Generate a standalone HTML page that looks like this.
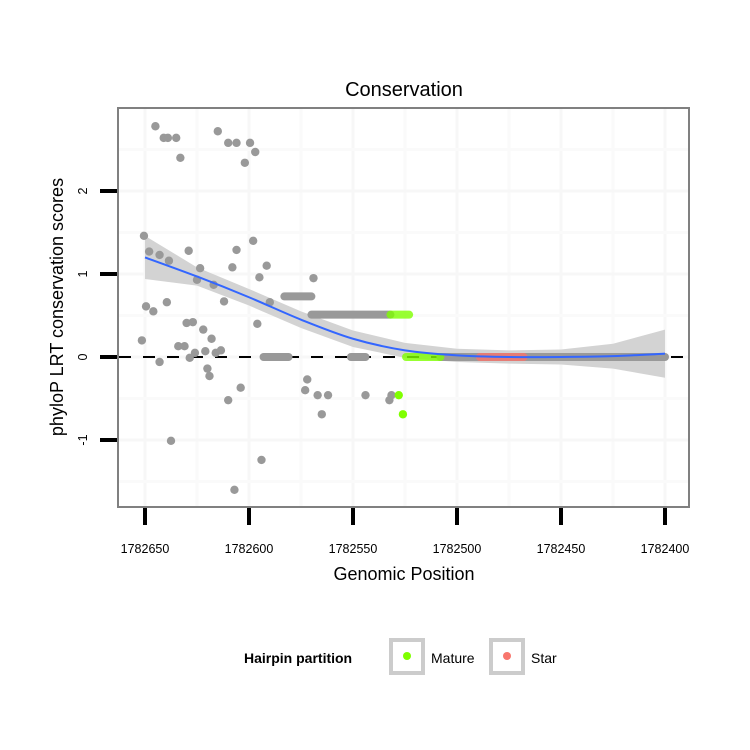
<!DOCTYPE html>
<html><head><meta charset="utf-8"><style>
body{margin:0;background:#fff;}
svg{display:block;font-family:"Liberation Sans",sans-serif;}
</style></head><body>
<svg id="chart" width="750" height="750">
<rect width="750" height="750" fill="#fff"/>
<text x="404" y="96" font-size="20" text-anchor="middle">Conservation</text>
<g id="grid"></g>
<g id="band"></g>
<g id="zero"></g>
<g id="pts"></g>
<g id="fit"></g>
<rect x="118" y="108" width="571" height="399" fill="none" stroke="#808080" stroke-width="2"/>
<g id="xaxis"></g>
<g id="yaxis"></g>
<text x="404" y="580" font-size="18" text-anchor="middle">Genomic Position</text>
<text transform="translate(63,307) rotate(-90)" font-size="18" text-anchor="middle">phyloP LRT conservation scores</text>
<g>
<text x="244" y="663" font-size="14" font-weight="bold">Hairpin partition</text>
<g>
<rect x="391" y="640" width="32" height="33" fill="#fff" stroke="#cccccc" stroke-width="4"/>
<circle cx="407" cy="656" r="4" fill="#7fff00"/>
<text x="431" y="663" font-size="14">Mature</text></g>
<g>
<rect x="491" y="640" width="32" height="33" fill="#fff" stroke="#cccccc" stroke-width="4"/>
<circle cx="507" cy="656" r="4" fill="#f8766d"/>
<text x="531" y="663" font-size="14">Star</text></g>
</g>
</svg>
<script>
const xTicks=[1782650,1782600,1782550,1782500,1782450,1782400];
const xTickLabels=["1782650","1782600","1782550","1782500","1782450","1782400"];
const yTicks=[-1,0,1,2];
const yTickLabels=["-1","0","1","2"];
const ptPos=[1782645,1782641,1782639,1782635,1782633,1782615,1782610,1782606,1782599.5,1782597,1782602,
1782650.5,1782648,1782643,1782638.5,1782629,1782623.5,1782625,1782617,1782608,1782606,1782598,1782591.5,1782595,1782612,1782590,1782569,1782639.5,1782649.5,1782646,1782651.5,1782634,1782631,1782630,1782627,1782622,1782618,1782626,1782628.5,1782621,1782616,1782613.5,1782643,1782620,1782619,1782610,1782604,1782637.5,1782594,1782607,1782596,1782572,1782573,1782567,1782562,1782565,1782544,1782532.5,1782531.5];
const ptVal=[2.78,2.64,2.64,2.64,2.40,2.72,2.58,2.58,2.58,2.47,2.34,
1.46,1.27,1.23,1.16,1.28,1.07,0.93,0.87,1.08,1.29,1.40,1.10,0.96,0.67,0.66,0.95,0.66,0.61,0.55,0.20,0.13,0.13,0.41,0.42,0.33,0.22,0.05,-0.01,0.07,0.05,0.08,-0.06,-0.14,-0.23,-0.52,-0.37,-1.01,-1.24,-1.60,0.40,-0.27,-0.40,-0.46,-0.46,-0.69,-0.46,-0.52,-0.46];
const maturePos=[1782528,1782526];
const matureVal=[-0.46,-0.69];
// runs of densely packed points: start, end, value, group
const runStart=[1782570,1782583,1782593,1782551,1782508,1782532,1782524.5,1782489];
const runEnd=[1782532,1782570,1782581,1782544,1782400,1782523,1782508,1782468];
const runVal=[0.51,0.73,0.00,0.00,0.00,0.51,0.00,0.00];
const runGroup=["none","none","none","none","none","mature","mature","star"];
const fitPos=[1782650,1782625,1782600,1782575,1782550,1782525,1782500,1782475,1782450,1782425,1782400];
const fitVal=[1.20,0.97,0.72,0.45,0.22,0.08,0.02,0.00,0.00,0.01,0.04];
const fitSe=[0.26,0.11,0.10,0.10,0.10,0.09,0.08,0.08,0.09,0.15,0.29];

const NS="http://www.w3.org/2000/svg";
const X=v=>145+(1782650-v)*2.08;
const Y=v=>357-v*83;
function mk(p,t,a){const e=document.createElementNS(NS,t);for(const k in a)e.setAttribute(k,a[k]);document.getElementById(p).appendChild(e);return e;}
const col={none:"#999999",mature:"#7fff00",star:"#f8766d"};
[1782625,1782575,1782525,1782475,1782425].forEach(v=>{const l=mk('grid','line',{x1:X(v),x2:X(v),y1:109,y2:506,stroke:'#fafafa','stroke-width':3});
});
xTicks.forEach(v=>{const l=mk('grid','line',{x1:X(v),x2:X(v),y1:109,y2:506,stroke:'#f7f7f7','stroke-width':3});
});
[-1.5,-0.5,0.5,1.5,2.5].forEach(v=>{const l=mk('grid','line',{x1:119,x2:688,y1:Y(v),y2:Y(v),stroke:'#fafafa','stroke-width':3});
});
yTicks.forEach(v=>{const l=mk('grid','line',{x1:119,x2:688,y1:Y(v),y2:Y(v),stroke:'#f7f7f7','stroke-width':3});
});
let up=fitPos.map((p,i)=>X(p)+','+Y(fitVal[i]+fitSe[i]));
let lo=fitPos.map((p,i)=>X(p)+','+Y(fitVal[i]-fitSe[i])).reverse();
const b=mk('band','polygon',{points:up.concat(lo).join(' '),fill:'#d3d3d3'});

const z=mk('zero','line',{x1:119,x2:688,y1:Y(0),y2:Y(0),stroke:'#000','stroke-width':2,'stroke-dasharray':'12,12'});

runStart.forEach((s,i)=>{const l=mk('pts','line',{x1:X(s),x2:X(runEnd[i]),y1:Y(runVal[i]),y2:Y(runVal[i]),stroke:col[runGroup[i]],'stroke-width':8,'stroke-linecap':'round','opacity':runGroup[i]=='none'?1:0.8});
});
ptPos.forEach((p,i)=>{const c=mk('pts','circle',{cx:X(p),cy:Y(ptVal[i]),r:4.2,fill:'#999999'});
});
maturePos.forEach((p,i)=>{const c=mk('pts','circle',{cx:X(p),cy:Y(matureVal[i]),r:4.2,fill:'#7fff00'});
});
const P=fitPos.map((p,i)=>[X(p),Y(fitVal[i])]);
let d='M'+P[0][0]+','+P[0][1];
for(let i=0;i<P.length-1;i++){const p0=P[Math.max(i-1,0)],p1=P[i],p2=P[i+1],p3=P[Math.min(i+2,P.length-1)];
d+=' C'+(p1[0]+(p2[0]-p0[0])/6)+','+(p1[1]+(p2[1]-p0[1])/6)+' '+(p2[0]-(p3[0]-p1[0])/6)+','+(p2[1]-(p3[1]-p1[1])/6)+' '+p2[0]+','+p2[1];}
const f=mk('fit','path',{d:d,fill:'none',stroke:'#3366ff','stroke-width':2});

xTicks.forEach((v,i)=>{const t=mk('xaxis','line',{x1:X(v),x2:X(v),y1:508,y2:525,stroke:'#000','stroke-width':4});

const l=mk('xaxis','text',{x:X(v),y:553,'font-size':12.5,'text-anchor':'middle'});l.textContent=xTickLabels[i];
});
yTicks.forEach((v,i)=>{const t=mk('yaxis','line',{x1:100,x2:117,y1:Y(v),y2:Y(v),stroke:'#000','stroke-width':4});

const l=mk('yaxis','text',{transform:'translate(87,'+Y(v)+') rotate(-90)','font-size':12.5,'text-anchor':'middle'});l.textContent=yTickLabels[i];
});
</script>
</body></html>
